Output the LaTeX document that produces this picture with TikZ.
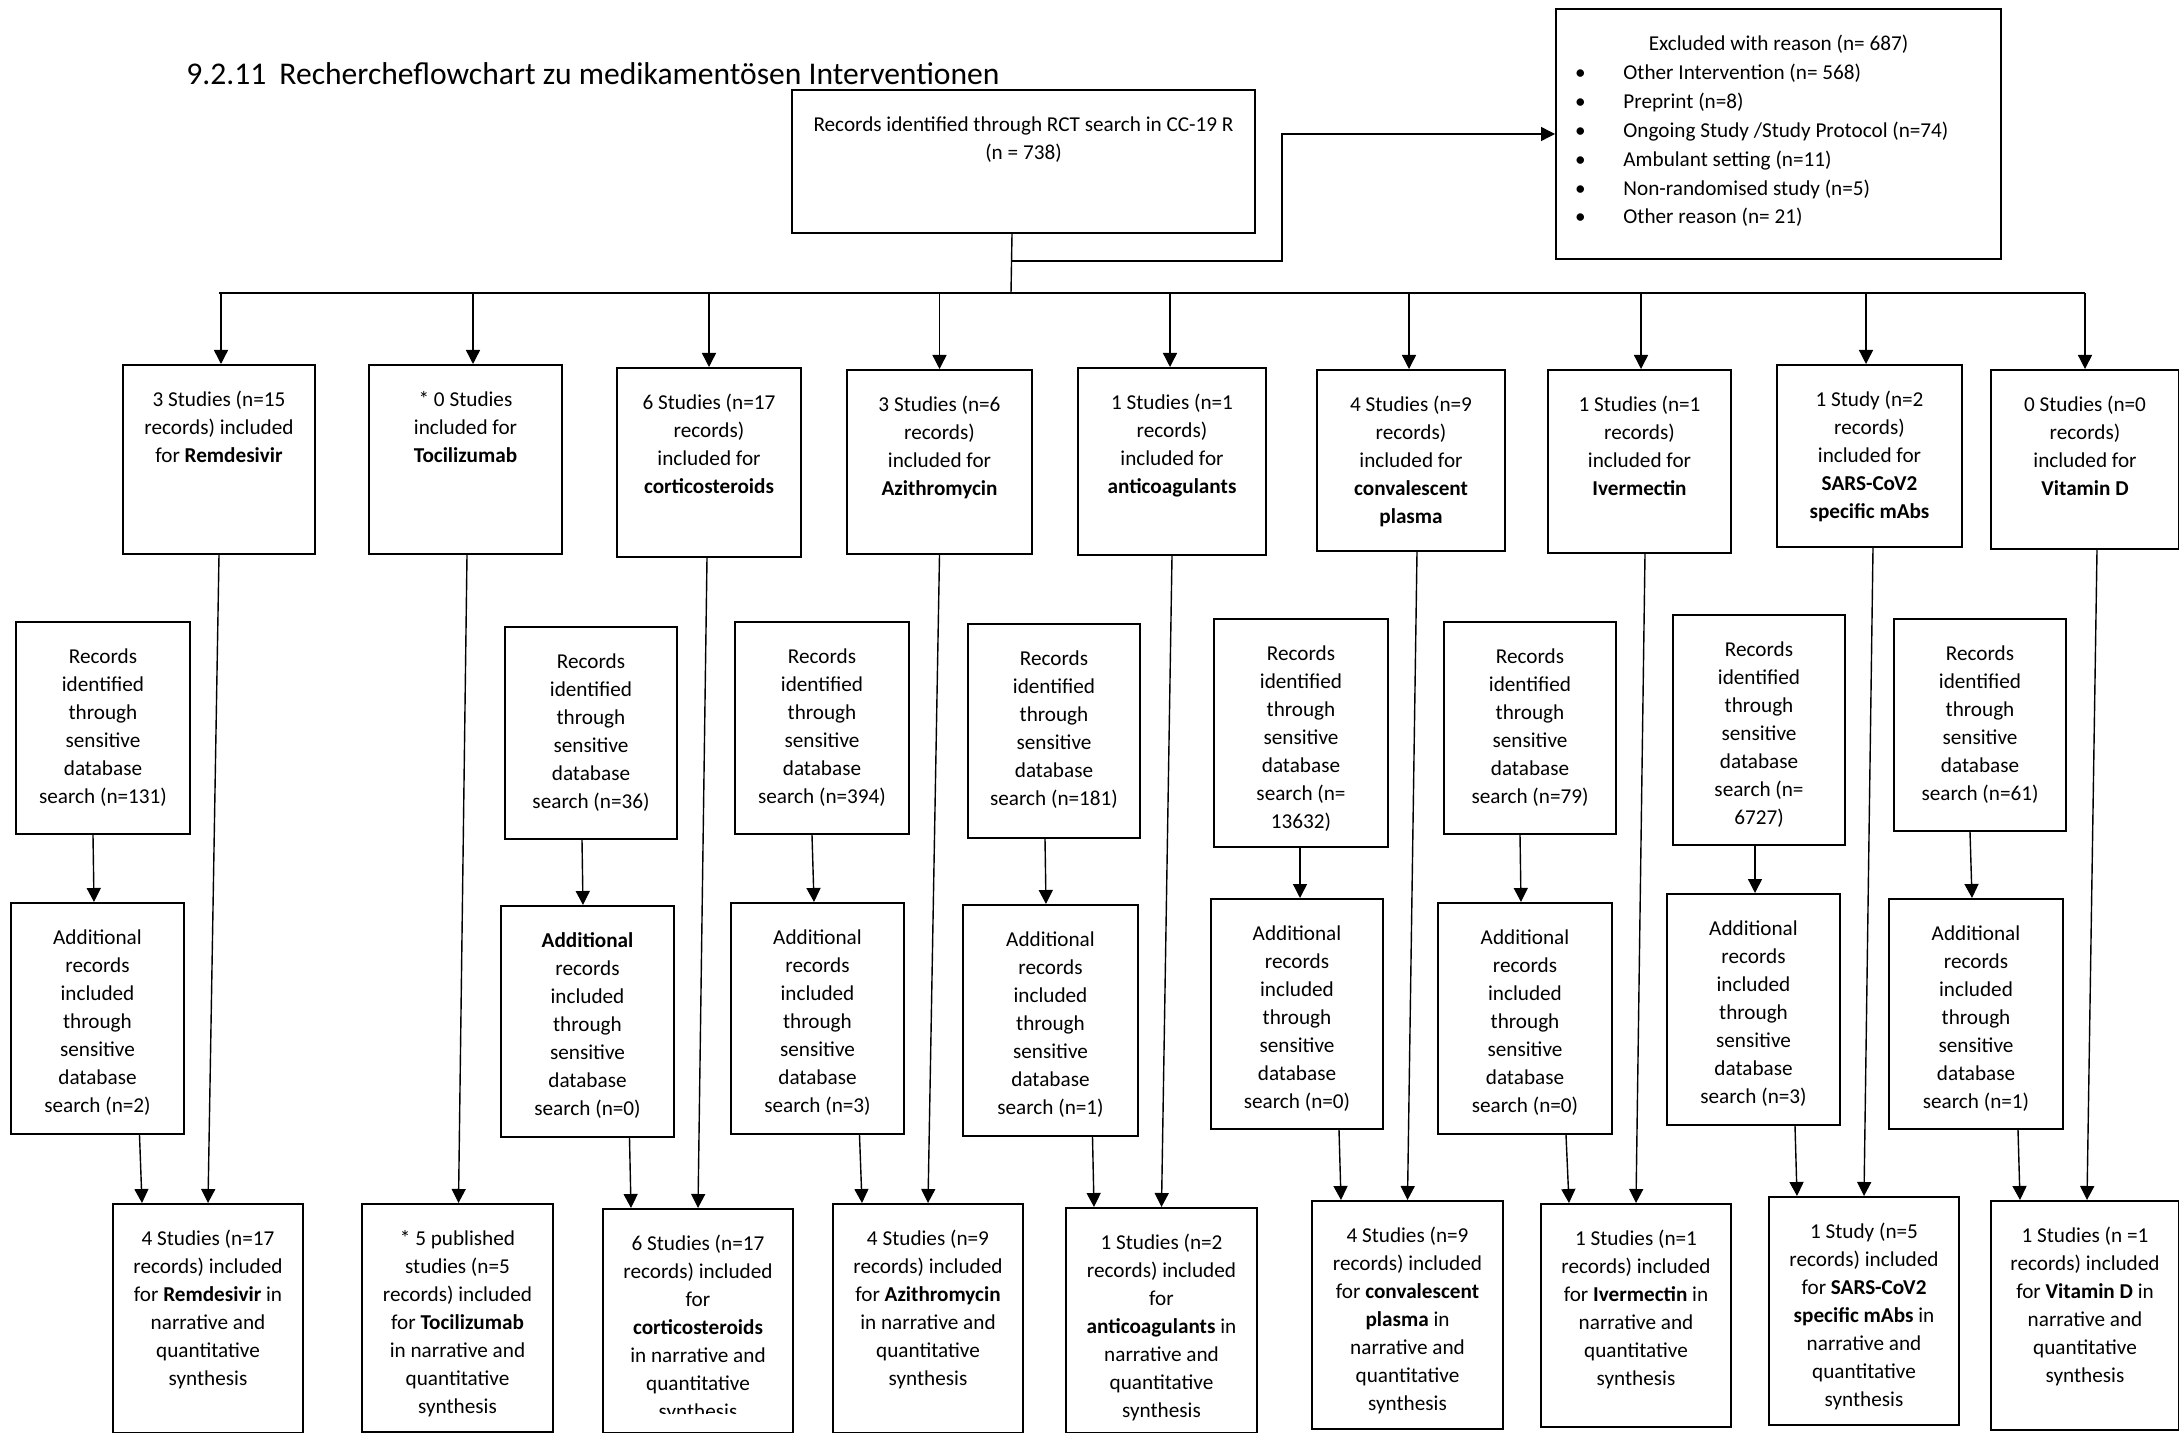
\documentclass[tikz,border=0pt]{standalone}
\usepackage{fontspec}
\setmainfont{Carlito}
\usetikzlibrary{arrows.meta,calc}
\tikzset{
  frame/.style={draw=black, line width=1pt, inner sep=0pt, anchor=north west},
  boxtext/.style={align=center, inner sep=0pt, anchor=north, font=\fontsize{10.6}{14}\selectfont},
  arr/.style={draw=black, line width=0.7pt, -{Triangle[width=7pt,length=7pt]}},
  link/.style={draw=black, line width=0.7pt},
}
\newcommand\flowbox[6]{%
  \node[frame, minimum width={(#4-#2)*0.5pt}, minimum height={(#5-#3)*0.5pt}] (#1) at (#2,#3) {};
  \node[boxtext] (#1t) at ([yshift=-13.5pt]#1.north) {#6};}
\newcommand\bul{\llap{\makebox[8pt]{\textbullet}\hspace{17.5pt}}}
\newcommand\busarrow[2]{\draw[arr] ($(#1.north |- j)+(#2,0)$) -- ([xshift=#2]#1.north);}
\newcommand\vconn[4]{\draw[arr] ([xshift=#2]#1.south) -- ([xshift=#4]#3.north);}
\begin{document}
\begin{tikzpicture}[x=0.5pt, y=-0.5pt]
\fill[white] (0,0) rectangle (2179,1433);
\useasboundingbox (0,0) rectangle (2179,1433);

\node[anchor=base west, inner sep=0pt, font=\fontsize{15.8}{19}\selectfont] (title) at (186,85)
  {9.2.11\hspace{6.5pt}Rechercheflowchart zu medikamentösen Interventionen};

% source and exclusions
\flowbox{rct}{791}{89}{1254}{232}{Records identified through RCT search in CC-19 R\\(n = 738)}
\node[frame, minimum width={445*0.5pt}, minimum height={250*0.5pt}] (excl) at (1555,8) {};
\node[boxtext] (exh) at ([yshift=-13.5pt]excl.north) {Excluded with reason (n= 687)};
\node[anchor=north west, align=left, inner sep=0pt, font=\fontsize{10.6}{14.4}\selectfont] (exl) at (1623,64)
  {\bul Other Intervention (n= 568)\\\bul Preprint (n=8)\\\bul Ongoing Study /Study Protocol (n=74)\\\bul Ambulant setting (n=11)\\\bul Non-randomised study (n=5)\\\bul Other reason (n= 21)};

% top row
\flowbox{t1}{122}{364}{314}{553}{3 Studies (n=15\\records) included\\for \textbf{Remdesivir}}
\flowbox{t2}{368}{364}{561}{553}{* 0 Studies\\included for\\\textbf{Tocilizumab}}
\flowbox{t3}{616}{367}{800}{556}{6 Studies (n=17\\records)\\included for\\\textbf{corticosteroids}}
\flowbox{t4}{846}{369}{1031}{553}{3 Studies (n=6\\records)\\included for\\\textbf{Azithromycin}}
\flowbox{t5}{1077}{367}{1265}{554}{1 Studies (n=1\\records)\\included for\\\textbf{anticoagulants}}
\flowbox{t6}{1316}{369}{1504}{550}{4 Studies (n=9\\records)\\included for\\\textbf{convalescent}\\\textbf{plasma}}
\flowbox{t7}{1547}{369}{1730}{552}{1 Studies (n=1\\records)\\included for\\\textbf{Ivermectin}}
\flowbox{t8}{1776}{364}{1961}{546}{1 Study (n=2\\records)\\included for\\\textbf{SARS-CoV2}\\\textbf{specific mAbs}}
\flowbox{t9}{1990}{369}{2178}{548}{0 Studies (n=0\\records)\\included for\\\textbf{Vitamin D}}

% records boxes
\flowbox{r1}{15}{621}{189}{833}{Records\\identified\\through\\sensitive\\database\\search (n=131)}
\flowbox{r3}{504}{626}{676}{838}{Records\\identified\\through\\sensitive\\database\\search (n=36)}
\flowbox{r4}{734}{621}{908}{833}{Records\\identified\\through\\sensitive\\database\\search (n=394)}
\flowbox{r5}{967}{623}{1139}{837}{Records\\identified\\through\\sensitive\\database\\search (n=181)}
\flowbox{r6}{1213}{618}{1387}{846}{Records\\identified\\through\\sensitive\\database\\search (n=\\13632)}
\flowbox{r7}{1443}{621}{1615}{833}{Records\\identified\\through\\sensitive\\database\\search (n=79)}
\flowbox{r8}{1672}{614}{1844}{844}{Records\\identified\\through\\sensitive\\database\\search (n=\\6727)}
\flowbox{r9}{1893}{618}{2065}{830}{Records\\identified\\through\\sensitive\\database\\search (n=61)}

% additional boxes
\flowbox{a1}{10}{902}{183}{1133}{Additional\\records\\included\\through\\sensitive\\database\\search (n=2)}
\flowbox{a3}{500}{905}{673}{1136}{\textbf{Additional}\\records\\included\\through\\sensitive\\database\\search (n=0)}
\flowbox{a4}{730}{902}{903}{1133}{Additional\\records\\included\\through\\sensitive\\database\\search (n=3)}
\flowbox{a5}{962}{904}{1137}{1135}{Additional\\records\\included\\through\\sensitive\\database\\search (n=1)}
\flowbox{a6}{1210}{898}{1382}{1128}{Additional\\records\\included\\through\\sensitive\\database\\search (n=0)}
\flowbox{a7}{1437}{902}{1611}{1133}{Additional\\records\\included\\through\\sensitive\\database\\search (n=0)}
\flowbox{a8}{1666}{893}{1839}{1124}{Additional\\records\\included\\through\\sensitive\\database\\search (n=3)}
\flowbox{a9}{1888}{898}{2062}{1128}{Additional\\records\\included\\through\\sensitive\\database\\search (n=1)}

% bottom row
\flowbox{b1}{112}{1203}{302}{1432}{4 Studies (n=17\\records) included\\for \textbf{Remdesivir} in\\narrative and\\quantitative\\synthesis}
\flowbox{b2}{361}{1203}{552}{1431}{* 5 published\\studies (n=5\\records) included\\for \textbf{Tocilizumab}\\in narrative and\\quantitative\\synthesis}
\node[frame, minimum width={190*0.5pt}, minimum height={224*0.5pt}] (b3) at (602,1208) {};
\begin{scope}
  \clip (602,1208) rectangle (792,1413);
  \node[boxtext] (b3t) at ([yshift=-13.5pt]b3.north) {6 Studies (n=17\\records) included\\for\\\textbf{corticosteroids}\\in narrative and\\quantitative\\synthesis};
\end{scope}
\flowbox{b4}{832}{1203}{1022}{1432}{4 Studies (n=9\\records) included\\for \textbf{Azithromycin}\\in narrative and\\quantitative\\synthesis}
\flowbox{b5}{1065}{1207}{1256}{1432}{1 Studies (n=2\\records) included\\for\\\textbf{anticoagulants} in\\narrative and\\quantitative\\synthesis}
\flowbox{b6}{1311}{1200}{1502}{1428}{4 Studies (n=9\\records) included\\for \textbf{convalescent}\\\textbf{plasma} in\\narrative and\\quantitative\\synthesis}
\flowbox{b7}{1540}{1203}{1730}{1426}{1 Studies (n=1\\records) included\\for \textbf{Ivermectin} in\\narrative and\\quantitative\\synthesis}
\flowbox{b8}{1768}{1196}{1958}{1424}{1 Study (n=5\\records) included\\for \textbf{SARS-CoV2}\\\textbf{specific mAbs} in\\narrative and\\quantitative\\synthesis}
\flowbox{b9}{1990}{1200}{2178}{1429}{1 Studies (n =1\\records) included\\for \textbf{Vitamin D} in\\narrative and\\quantitative\\synthesis}

% trunk, exclusion branch, bus
\coordinate (j) at (1011,293);
\coordinate (k) at (1011,261);
\coordinate (elb) at (1282,261);
\draw[link] ([xshift=-5.75pt]rct.south) -- (j);
\draw[arr] (k) -- (elb) |- (excl.west);
\draw[link] (t1.north |- j) -- (t9.north |- j);
\busarrow{t1}{1pt}
\busarrow{t2}{3.75pt}
\busarrow{t3}{0pt}
\busarrow{t4}{0pt}
\busarrow{t5}{-1pt}
\busarrow{t6}{-1pt}
\busarrow{t7}{0.75pt}
\busarrow{t8}{-1.75pt}
\busarrow{t9}{0pt}

% long arrows
\vconn{t1}{0pt}{b1}{0pt}
\vconn{t2}{0.75pt}{b2}{0.5pt}
\vconn{t3}{-1pt}{b3}{0pt}
\vconn{t4}{0pt}{b4}{0pt}
\vconn{t5}{0pt}{b5}{0pt}
\vconn{t6}{3pt}{b6}{0pt}
\vconn{t7}{2.75pt}{b7}{0pt}
\vconn{t8}{1.75pt}{b8}{0pt}
\vconn{t9}{6pt}{b9}{1pt}

% records -> additional
\vconn{r1}{-5pt}{a1}{-1.75pt}
\vconn{r3}{-4.5pt}{a3}{-2.25pt}
\vconn{r4}{-5pt}{a4}{-1.75pt}
\vconn{r5}{-4.5pt}{a5}{-2.25pt}
\vconn{r6}{-0.5pt}{a6}{1.5pt}
\vconn{r7}{-5pt}{a7}{-2pt}
\vconn{r8}{-2pt}{a8}{0.75pt}
\vconn{r9}{-5pt}{a9}{-2pt}

% additional -> bottom
\vconn{a1}{21pt}{b1}{-33pt}
\vconn{a3}{21pt}{b3}{-33.5pt}
\vconn{a4}{21pt}{b4}{-33pt}
\vconn{a5}{21pt}{b5}{-33.75pt}
\vconn{a6}{21pt}{b6}{-33.25pt}
\vconn{a7}{20.5pt}{b7}{-33.5pt}
\vconn{a8}{20.75pt}{b8}{-33.5pt}
\vconn{a9}{21pt}{b9}{-32.5pt}
\end{tikzpicture}
\end{document}
